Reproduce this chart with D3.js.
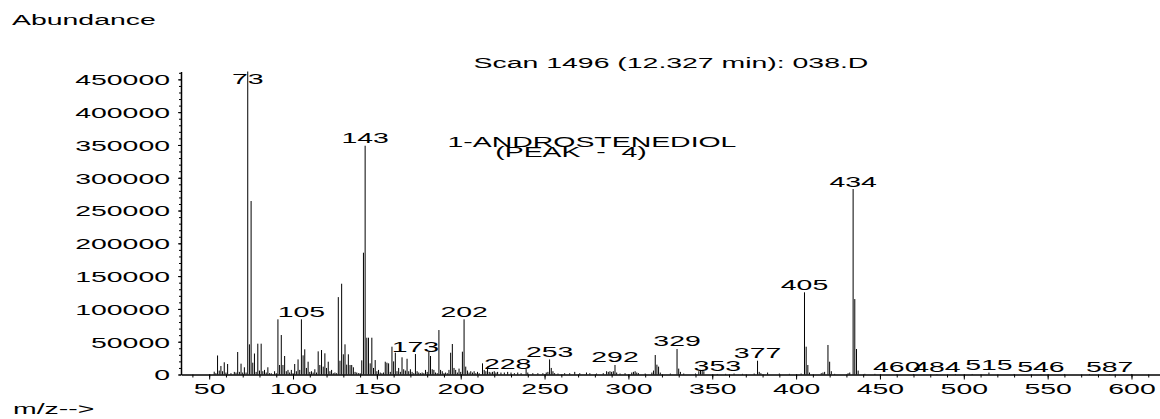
<!DOCTYPE html>
<html>
<head>
<meta charset="utf-8">
<script src="https://cdn.jsdelivr.net/npm/d3@7"></script>
<style>
  html, body { margin: 0; padding: 0; background: #fff; }
  #plot { width: 1160px; height: 419px; }
  text { font-family: "Liberation Sans", Arial, sans-serif; font-size: 14px; fill: #000; white-space: pre; }
</style>
</head>
<body>
<div id="plot"></div>
<script>
// Spectrum data (m/z and abundance)
const mz = [
  53, 54, 55, 56, 57, 58, 59, 60, 61, 63, 65, 66, 67, 68, 69, 70, 71, 72, 73, 74,
  75, 76, 77, 78, 79, 80, 81, 82, 83, 84, 85, 86, 87, 89, 90, 91, 92, 93, 94, 95,
  96, 97, 98, 99, 100, 101, 102, 103, 104, 105, 106, 107, 108, 109, 110, 111, 112, 113, 114, 115,
  116, 117, 118, 119, 120, 121, 122, 123, 124, 125, 126, 127, 128, 129, 130, 131, 132, 133, 134, 135,
  136, 137, 138, 139, 140, 141, 142, 143, 144, 145, 146, 147, 148, 149, 150, 151, 152, 153, 154, 155,
  156, 157, 158, 159, 160, 161, 162, 163, 164, 165, 166, 167, 168, 169, 170, 171, 172, 173, 174, 175,
  176, 177, 178, 179, 180, 181, 182, 183, 184, 185, 186, 187, 188, 189, 190, 191, 192, 193, 194, 195,
  196, 197, 198, 199, 200, 201, 202, 203, 204, 205, 206, 207, 208, 209, 210, 211, 213, 214, 215, 216,
  217, 218, 219, 220, 221, 222, 224, 226, 228, 230, 232, 234, 236, 239, 240, 243, 246, 249, 251, 252,
  253, 254, 255, 256, 258, 262, 265, 268, 271, 275, 277, 281, 285, 287, 288, 289, 290, 291, 292, 293,
  295, 298, 302, 303, 304, 305, 306, 310, 314, 315, 316, 317, 318, 319, 325, 329, 330, 331, 333, 340,
  342, 343, 344, 345, 353, 358, 363, 368, 375, 377, 378, 379, 383, 390, 396, 403, 405, 406, 407, 408,
  415, 416, 417, 419, 420, 421, 423, 431, 432, 434, 435, 436, 437, 441, 447, 460, 470, 484, 495, 505,
  515, 530, 546, 560, 575, 587, 600
];
const abundance = [
  4300, 2000, 29000, 6000, 13000, 5000, 18600, 3000, 16000, 2000, 4000, 3000, 34300, 4000, 16500, 3000, 11000, 3000, 462000, 46000,
  264500, 18000, 32000, 4000, 47000, 6000, 47000, 5000, 7000, 3000, 11000, 2000, 2000, 5000, 2000, 84100, 14500, 60200, 14500, 28200,
  5000, 7000, 3000, 7000, 2000, 16000, 5000, 23000, 7000, 84100, 29200, 38400, 10000, 19500, 4000, 5000, 3000, 8000, 3000, 35300,
  14500, 37300, 12000, 32300, 10000, 19500, 5000, 7000, 2000, 3000, 2000, 118000, 21000, 138400, 30800, 46000, 15000, 30800, 14500, 14500,
  11000, 4000, 3000, 2000, 2000, 21600, 185700, 348800, 56100, 56100, 17000, 56100, 10000, 22000, 5000, 7000, 3000, 2000, 3000, 19500,
  18000, 17000, 4000, 42400, 20000, 33300, 5000, 10000, 4000, 26200, 8000, 6000, 24000, 5000, 8000, 4000, 2000, 31200, 5000, 3000,
  2000, 3000, 2000, 7000, 4000, 34800, 28200, 8000, 7000, 3000, 2000, 67800, 7000, 5000, 2000, 3000, 2000, 7000, 33200, 46500,
  10000, 7000, 3000, 9000, 4000, 34800, 84100, 12000, 6000, 3000, 5000, 3000, 5000, 2000, 4000, 2000, 17000, 7000, 5000, 12000,
  4000, 3000, 4000, 5000, 3000, 4000, 3000, 3000, 4000, 3000, 2000, 3000, 2000, 9000, 3000, 2000, 2000, 2000, 3000, 4000,
  23000, 10000, 5000, 2000, 1500, 2000, 2000, 4000, 2000, 3000, 2000, 1500, 2000, 5000, 4000, 5000, 4000, 5000, 14500, 3000,
  1500, 2000, 3000, 4000, 5000, 3000, 2000, 1500, 3000, 6000, 29700, 15000, 12000, 3000, 1500, 38900, 9000, 4000, 1500, 1500,
  5000, 7000, 7000, 5000, 800, 1000, 1500, 1000, 1500, 21000, 4000, 2000, 3000, 1500, 1000, 1500, 125300, 42400, 14500, 3000,
  2000, 3000, 4000, 45000, 19500, 5000, 1000, 2000, 3000, 282800, 115000, 38900, 6000, 1000, 1000, 600, 800, 600, 800, 800,
  3000, 800, 600, 800, 800, 600, 800
];

// Peaks that carry an m/z label
const labelMz = [73, 105, 143, 173, 202, 228, 253, 292, 329, 353, 377, 405, 434, 460, 484, 515, 546, 587];

// Axis ticks
const xTicks = [50, 100, 150, 200, 250, 300, 350, 400, 450, 500, 550, 600];
const xMinorTicks = d3.range(40, 620, 10);
const yTicks = [0, 50000, 100000, 150000, 200000, 250000, 300000, 350000, 400000, 450000];
const yMinorTicks = d3.range(0, 460001, 10000);

const scanTitle = "Scan 1496 (12.327 min): 038.D";
const compoundLines = ["1-ANDROSTENEDIOL", "(PEAK  -  4)"];

// The instrument font is stretched horizontally
const stretch = 2.03;

const width = 1160, height = 419;

const svg = d3.select("#plot")
    .append("svg")
    .attr("width", width)
    .attr("height", height);

const x = d3.scaleLinear().domain([33.2, 617]).range([181, 1160]);
const y = d3.scaleLinear().domain([0, 462000]).range([374.5, 71.5]);

// helper for stretched text
function addText(str, tx, ty, anchor) {
    svg.append("text")
        .attr("transform", `translate(${tx},${ty}) scale(${stretch},1)`)
        .attr("text-anchor", anchor)
        .text(str);
}

// Minor ticks
svg.append("g")
    .attr("transform", `translate(0,${y(0)})`)
    .call(d3.axisBottom(x).tickValues(xMinorTicks).tickSize(3).tickSizeOuter(0).tickFormat(""))
    .call(g => g.select(".domain").remove());
svg.append("g")
    .attr("transform", `translate(${x(33.2)},0)`)
    .call(d3.axisLeft(y).tickValues(yMinorTicks).tickSize(2).tickSizeOuter(0).tickFormat(""))
    .call(g => g.select(".domain").remove());

// X axis
const xAxis = svg.append("g")
    .attr("transform", `translate(0,${y(0)})`)
    .call(d3.axisBottom(x).tickValues(xTicks).tickSize(5).tickSizeOuter(0));
xAxis.select(".domain").attr("stroke-width", 1.5);
xAxis.selectAll("text")
    .attr("y", 9.5)
    .attr("transform", `scale(${stretch},1)`)
    .style("font-size", "14px")
    .style("font-family", '"Liberation Sans", Arial, sans-serif');

// Y axis
const yAxis = svg.append("g")
    .attr("transform", `translate(${x(33.2)},0)`)
    .call(d3.axisLeft(y).tickValues(yTicks).tickSize(3).tickSizeOuter(0).tickFormat(d3.format("d")));
yAxis.select(".domain").attr("stroke-width", 1.5);
yAxis.selectAll("text")
    .attr("x", 0)
    .attr("dy", "0.38em")
    .attr("transform", `translate(-11,0) scale(${stretch},1)`)
    .style("font-size", "14px")
    .style("font-family", '"Liberation Sans", Arial, sans-serif');

// Peak sticks
svg.append("g")
    .selectAll("line")
    .data(mz)
    .enter()
    .append("line")
    .attr("x1", d => x(d))
    .attr("x2", d => x(d))
    .attr("y1", y(0))
    .attr("y2", (d, i) => y(abundance[i]))
    .attr("stroke", "#000")
    .attr("stroke-width", 1);

// Peak labels
labelMz.forEach(m => {
    const v = abundance[mz.indexOf(m)];
    let by = y(v) - 2.5;
    by = Math.max(84, Math.min(372.5, by));
    addText(String(m), x(m), by, "middle");
});

// Titles
addText("Abundance", 12, 25, "start");
addText(scanTitle, 671, 68, "middle");
addText(compoundLines[0], 592, 146.5, "middle");
addText(compoundLines[1], 571, 156.5, "middle");
addText("m/z-->", 13, 414, "start");
</script>
</body>
</html>
